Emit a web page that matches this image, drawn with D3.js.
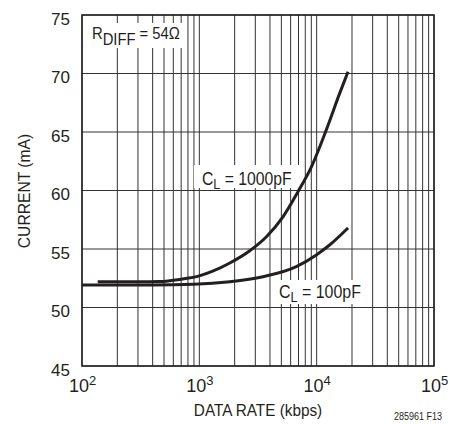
<!DOCTYPE html>
<html>
<head>
<meta charset="utf-8">
<script src="https://cdn.jsdelivr.net/npm/d3@7"></script>
<style>
  body { margin: 0; background: #fff; }
  svg text { font-family: "Liberation Sans", Arial, sans-serif; fill: #231f20; }
</style>
</head>
<body>
<svg id="chart" width="450" height="424"></svg>
<script>
// data
const xTicks = [1e2, 1e3, 1e4, 1e5];
const yTicks = [45, 50, 55, 60, 65, 70, 75];

const rate1000 = [136, 300, 460, 700, 1000, 1300, 1820, 2690, 3730, 5160, 6930, 9000, 12100, 15700, 18500];
const cur1000  = [52.2, 52.2, 52.22, 52.42, 52.7, 53.1, 53.8, 54.85, 56.05, 57.75, 59.9, 62.0, 65.2, 68.3, 70.15];

const rate100 = [100, 400, 900, 1820, 3490, 6710, 9930, 12880, 18500];
const cur100  = [51.92, 51.92, 51.98, 52.2, 52.63, 53.49, 54.49, 55.34, 56.8];

const svg = d3.select("#chart");
const pL = 82, pR = 434, pT = 15, pB = 366;

const x = d3.scaleLog().domain([1e2, 1e5]).range([pL, pR]);
const y = d3.scaleLinear().domain([45, 75]).range([pB, pT]);

const ink = "#231f20";

// grid
const grid = svg.append("g");
grid.selectAll("line.vx")
    .data(x.ticks())
    .enter().append("line")
    .attr("x1", d => x(d)).attr("x2", d => x(d))
    .attr("y1", pT).attr("y2", pB)
    .attr("stroke", "#333").attr("stroke-width", 1);
grid.selectAll("line.hy")
    .data(yTicks)
    .enter().append("line")
    .attr("x1", pL).attr("x2", pR)
    .attr("y1", d => y(d)).attr("y2", d => y(d))
    .attr("stroke", "#333").attr("stroke-width", 1);
svg.append("rect")
    .attr("x", pL).attr("y", pT)
    .attr("width", pR - pL).attr("height", pB - pT)
    .attr("fill", "none").attr("stroke", ink).attr("stroke-width", 1.5);

// white boxes behind labels
const boxes = [[86, 23, 100, 25], [194, 165, 106, 23], [278, 280, 87, 24]];
svg.selectAll("rect.box")
    .data(boxes)
    .enter().append("rect")
    .attr("x", d => d[0]).attr("y", d => d[1])
    .attr("width", d => d[2]).attr("height", d => d[3])
    .attr("fill", "#fff");

// y axis
const yAxis = svg.append("g")
    .attr("transform", `translate(${pL - 12},0)`)
    .call(d3.axisLeft(y).tickValues(yTicks).tickSize(0).tickPadding(0));
yAxis.select(".domain").remove();
yAxis.attr("font-family", null).attr("font-size", null);
yAxis.selectAll("text")
    .attr("font-size", 17)
    .attr("dy", "0.55em");

// x axis
const xAxis = svg.append("g")
    .attr("transform", `translate(0,${pB})`)
    .call(d3.axisBottom(x).tickValues(xTicks).tickSize(0).tickPadding(0).tickFormat(""));
xAxis.select(".domain").remove();
xAxis.attr("font-family", null).attr("font-size", null);
xAxis.selectAll(".tick text")
    .attr("y", 26)
    .attr("dy", null)
    .attr("font-size", 18)
    .each(function(d) {
        const t = d3.select(this);
        t.append("tspan").text("10");
        t.append("tspan").attr("font-size", 13).attr("dy", -7).text(Math.round(Math.log10(d)));
    });

// curves
const line = d3.line()
    .x(d => x(d[0]))
    .y(d => y(d[1]))
    .curve(d3.curveMonotoneX);

svg.append("path")
    .datum(d3.zip(rate1000, cur1000))
    .attr("d", line)
    .attr("fill", "none").attr("stroke", ink).attr("stroke-width", 3);
svg.append("path")
    .datum(d3.zip(rate100, cur100))
    .attr("d", line)
    .attr("fill", "none").attr("stroke", ink).attr("stroke-width", 3);

// condensed text: squeeze horizontally around the anchor
function narrowText(px, py, size, sx, rot) {
    const g = svg.append("g")
        .attr("transform", `translate(${px},${py})` + (rot ? ` rotate(${rot})` : "") + ` scale(${sx},1)`);
    return g.append("text").attr("font-size", size);
}
function subLabel(px, py, main, sub, rest, size, subSize, drop, sx) {
    const t = narrowText(px, py, size, sx);
    t.append("tspan").text(main);
    t.append("tspan").attr("font-size", subSize).attr("dy", drop).text(sub);
    t.append("tspan").attr("dy", -drop).text(rest);
}
subLabel(92, 39, "R", "DIFF", " = 54\u03A9", 17, 17, 5.5, 0.87);
subLabel(202, 185, "C", "L", " = 1000pF", 19, 15, 4, 0.83);
subLabel(279, 298, "C", "L", " = 100pF", 19, 15, 4, 0.84);

narrowText((pL + pR) / 2, 416, 17, 0.9)
    .attr("text-anchor", "middle")
    .text("DATA RATE (kbps)");

narrowText(29.5, 191, 17, 0.92, -90)
    .attr("text-anchor", "middle")
    .text("CURRENT (mA)");

narrowText(442, 420, 10, 0.9)
    .attr("text-anchor", "end")
    .text("285961 F13");
</script>
</body>
</html>
